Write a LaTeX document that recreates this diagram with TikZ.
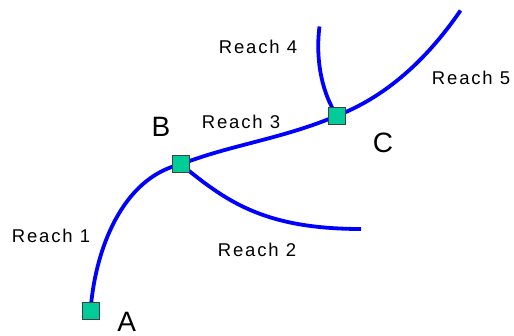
\documentclass[tikz,border=0pt]{standalone}
\usepackage{fontspec}
\setmainfont{Liberation Sans}
\newfontfamily\reachfont{Liberation Sans}[LetterSpace=10]
\begin{document}
\begin{tikzpicture}[x=1pt,y=-1pt,
  reach/.style={draw=blue, line width=3.8pt},
  junction/.style={draw=black!75, line width=0.8pt, fill=junctioncol, minimum size=17pt, inner sep=0pt, rectangle},
  lbl/.style={inner sep=0pt, font=\reachfont\fontsize{18.5}{21}\selectfont},
  big/.style={inner sep=0pt, font=\fontsize{28}{32}\selectfont}]
\definecolor{junctioncol}{HTML}{00CC99}
\useasboundingbox (0,0) rectangle (514,336);
\coordinate (A) at (90.5,310.8);
\coordinate (B) at (180.8,164.3);
\coordinate (C) at (337,115.7);
\coordinate (e2) at (361,229);
\coordinate (e4) at (319.5,26.5);
\coordinate (e5) at (460.5,10.5);
\draw[reach] (A) .. controls (95,250) and (122,178) .. (B);
\draw[reach] (B) .. controls (225,200) and (262,229) .. (e2);
\draw[reach] (B) .. controls (230,145) and (282,139) .. (C);
\draw[reach] (e4) .. controls (315,62) and (323,95) .. (C);
\draw[reach] (C) .. controls (390,95) and (430,55) .. (e5);
\node[junction] (nA) at (A) {};
\node[junction] (nB) at (B) {};
\node[junction] (nC) at (C) {};
\node[big] (tA) at (126.7,322) {A};
\node[big] (tB) at (161,126.5) {B};
\node[big] (tC) at (383,143) {C};
\node[lbl] (r1) at (51,236) {Reach 1};
\node[lbl] (r2) at (257,250) {Reach 2};
\node[lbl] (r3) at (241,121.5) {Reach 3};
\node[lbl] (r4) at (258,47) {Reach 4};
\node[lbl] (r5) at (471,78.3) {Reach 5};
\end{tikzpicture}
\end{document}
